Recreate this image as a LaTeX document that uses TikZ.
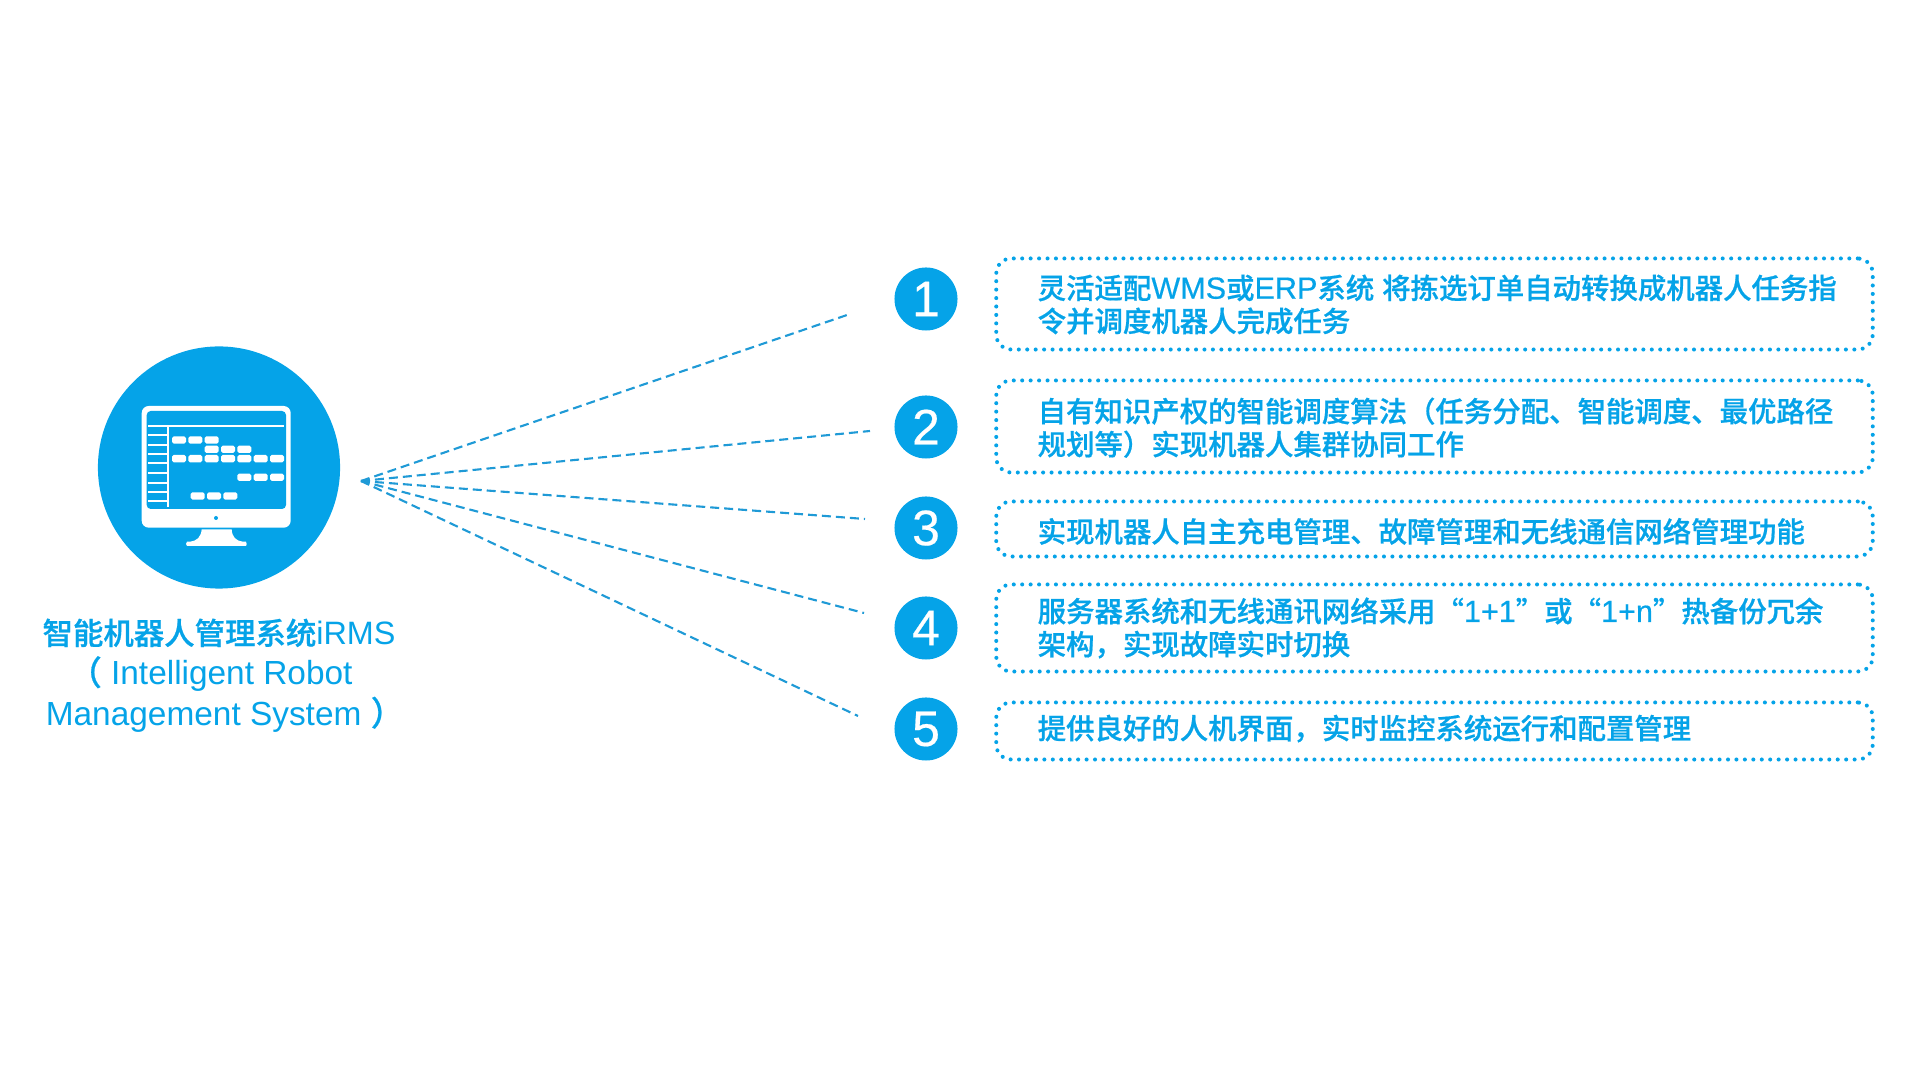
\documentclass[tikz,border=0pt]{standalone}
\usepackage{fontspec}
\usepackage{xcolor}
\setmainfont{Liberation Sans}
\newfontfamily\cjk{Noto Sans CJK SC Medium}[FakeBold=0.7]
\newfontfamily\latmed{Liberation Sans}[FakeBold=0.4]
\newcommand{\zh}[1]{{\cjk #1}}
\newcommand{\lat}[1]{{\latmed\fontsize{8.7}{9.4}\selectfont #1}}
\definecolor{irmsblue}{HTML}{05A3E8}
\definecolor{linkblue}{HTML}{1F9AD6}
\usetikzlibrary{positioning}
\tikzset{
  numdot/.style={circle, fill=irmsblue, text=white, inner sep=0pt, minimum size=0.63cm, font=\fontsize{14.2}{14.2}\selectfont\latmed},
  itembox/.style={draw=irmsblue, line width=1.15pt, line cap=round, dash pattern=on 0pt off 2.4pt, rounded corners=0.15cm, minimum width=8.76cm},
  itemtext/.style={text=irmsblue, anchor=west, inner sep=0pt, align=left, font=\fontsize{8.08}{9.4}\selectfont},
  link/.style={linkblue, dash pattern=on 0.09cm off 0.05cm, line width=0.6pt},
}

\begin{document}
\begin{tikzpicture}[x=0.01cm, y=-0.01cm]
  \useasboundingbox (0,0) rectangle (1920,1080);

  % System circle and caption
  \node[circle, fill=irmsblue, inner sep=0pt, minimum size=2.42cm] (sys) at (219,467.5) {};
  \node[text=irmsblue, align=center, font=\fontsize{9.5}{11.5}\selectfont] (caption) at (219,675.5)
    {{\fontsize{8.65}{11.5}\selectfont\zh{智能机器人管理系统}}{\fontsize{9.2}{11.5}\selectfont iRMS}\\\hspace*{-0.17cm}\zh{（} Intelligent Robot\\\hspace*{0.12cm}Management System \zh{）}};

  % Monitor
  \fill[white, rounded corners=0.07cm] (141.7,406) rectangle (290.7,527.7);
  \fill[irmsblue, rounded corners=0.04cm] (146.7,411) rectangle (286,509);
  \fill[irmsblue] (216,518) circle (2);
  \fill[white] (201.7,529.3) -- (231.7,529.3) .. controls (232,537) and (236,541) .. (243,541.7)
    -- (246,541.7) -- (246.7,544) -- (246,546) -- (187,546) -- (186,544) -- (187,541.7) -- (190,541.7)
    .. controls (197,541) and (201,537) .. (201.7,529.3) -- cycle;

  % Chart lines
  \draw[white, line width=0.6pt] (148.3,426) -- (284,426);
  \draw[white, line width=0.65pt] (168.3,426) -- (168.3,506.7);
  \draw[white, line width=0.5pt] (148.3,435.3) -- (167.5,435.3) (148.3,445) -- (167.5,445) (148.3,454) -- (167.5,454)
    (148.3,463.3) -- (167.5,463.3) (148.3,472.7) -- (167.5,472.7) (148.3,482.7) -- (167.5,482.7)
    (148.3,491.7) -- (167.5,491.7) (148.3,501) -- (167.5,501);

  % Chart bars
  \fill[white, rounded corners=0.5pt] (172,436.3) rectangle (186,443.7) (188.3,436.3) rectangle (202.3,443.7) (204.7,436.3) rectangle (218.7,443.7);
  \fill[white, rounded corners=0.5pt] (204.7,445.6) rectangle (218.7,453) (221,445.6) rectangle (235,453) (237.3,445.6) rectangle (251.3,453);
  \fill[white, rounded corners=0.5pt] (172,455) rectangle (186,462.4) (188.3,455) rectangle (202.3,462.4) (204.7,455) rectangle (218.7,462.4)
    (221,455) rectangle (235,462.4) (237.3,455) rectangle (251.3,462.4) (253.7,455) rectangle (267.7,462.4) (270,455) rectangle (284,462.4);
  \fill[white, rounded corners=0.5pt] (237.3,473.6) rectangle (251.3,481) (253.7,473.6) rectangle (267.7,481) (270,473.6) rectangle (284,481);
  \fill[white, rounded corners=0.5pt] (190.7,492.3) rectangle (204.7,499.7) (207,492.3) rectangle (221,499.7) (223.3,492.3) rectangle (237.3,499.7);

  % Links
  \coordinate (hub) at (361,481);
  \coordinate (endOne) at (850,314);
  \coordinate (endTwo) at (870,431);
  \coordinate (endThree) at (865,519);
  \coordinate (endFour) at (864,613);
  \coordinate (endFive) at (858,716);
  \draw[link] (hub) -- (endOne);
  \draw[link] (hub) -- (endTwo);
  \draw[link] (hub) -- (endThree);
  \draw[link] (hub) -- (endFour);
  \draw[link] (hub) -- (endFive);

  % Numbers
  \node[numdot] (numOne) at (926,299) {1};
  \node[numdot] (numTwo) at (926,427) {2};
  \node[numdot] (numThree) at (926,528) {3};
  \node[numdot] (numFour) at (926,628) {4};
  \node[numdot] (numFive) at (926,729) {5};

  % Item boxes
  \node[itembox, minimum height=0.91cm] (boxOne) at (1434.5,304) {};
  \node[itembox, minimum height=0.92cm] (boxTwo) at (1434.5,426.5) {};
  \node[itembox, minimum height=0.55cm] (boxThree) at (1434.5,529) {};
  \node[itembox, minimum height=0.87cm] (boxFour) at (1434.5,628) {};
  \node[itembox, minimum height=0.57cm] (boxFive) at (1434.5,731) {};

  % Item texts
  \node[itemtext] (textOne) at (1037,304.5)
    {\zh{灵活适配}\lat{WMS}\zh{或}\lat{ERP}\zh{系统} \zh{将拣选订单自动转换成机器人任务指}\\\zh{令并调度机器人完成任务}};
  \node[itemtext] (textTwo) at (1037,427.7)
    {\zh{自有知识产权的智能调度算法（任务分配、智能调度、最优路径}\\\zh{规划等）实现机器人集群协同工作}};
  \node[itemtext] (textThree) at (1037,531.4)
    {\zh{实现机器人自主充电管理、故障管理和无线通信网络管理功能}};
  \node[itemtext] (textFour) at (1037,628)
    {\zh{服务器系统和无线通讯网络采用“}\lat{1+1}\zh{”或“}\lat{1+n}\zh{”热备份冗余}\\\zh{架构，实现故障实时切换}};
  \node[itemtext] (textFive) at (1037,728.6)
    {\zh{提供良好的人机界面，实时监控系统运行和配置管理}};
\end{tikzpicture}
\end{document}
